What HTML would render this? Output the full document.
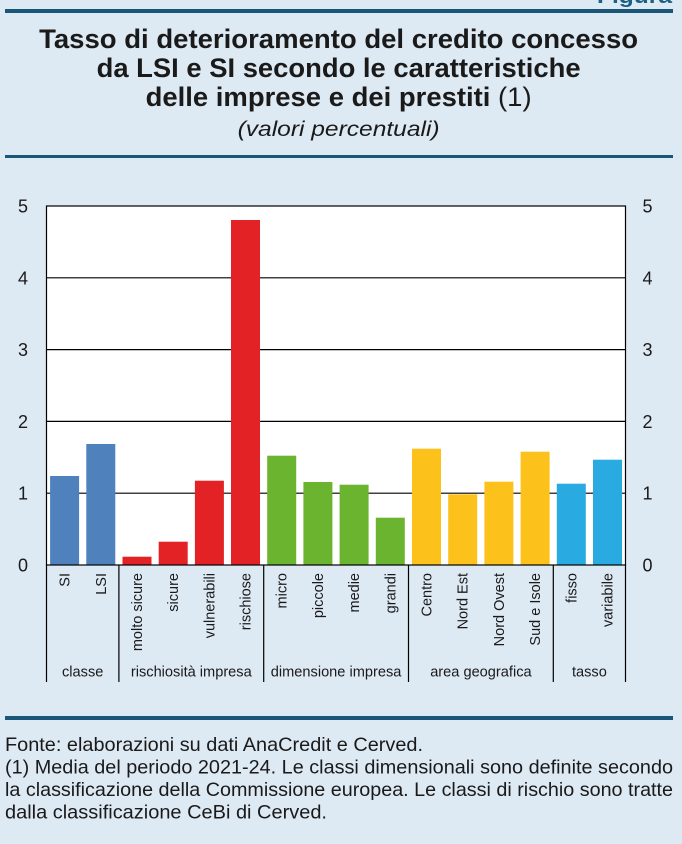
<!DOCTYPE html>
<html>
<head>
<meta charset="utf-8">
<style>
  html, body { margin:0; padding:0; background:#dde9f3; }
  svg { display:block; }
  text { font-family: "Liberation Sans", Arial, sans-serif; fill:#1a1a1a; }
</style>
</head>
<body>
<svg width="682" height="844" viewBox="0 0 682 844" xmlns="http://www.w3.org/2000/svg">
  <rect x="0" y="0" width="682" height="844" fill="#dde9f3"/>

  <!-- Header -->
  <text x="672" y="3" text-anchor="end" font-size="20" font-weight="bold" style="fill:#1b6186" textLength="75" lengthAdjust="spacingAndGlyphs">Figura</text>
  <rect x="5" y="9" width="668" height="4" fill="#1a5677"/>

  <text x="338.6" y="48" text-anchor="middle" font-size="27" font-weight="bold" textLength="599" lengthAdjust="spacingAndGlyphs">Tasso di deterioramento del credito concesso</text>
  <text x="338.6" y="77" text-anchor="middle" font-size="27" font-weight="bold" textLength="484" lengthAdjust="spacingAndGlyphs">da LSI e SI secondo le caratteristiche</text>
  <text x="338.6" y="106" text-anchor="middle" font-size="27" textLength="386" lengthAdjust="spacingAndGlyphs"><tspan font-weight="bold">delle imprese e dei prestiti</tspan> (1)</text>
  <text x="338.6" y="136" text-anchor="middle" font-size="21" font-style="italic" textLength="202" lengthAdjust="spacingAndGlyphs">(valori percentuali)</text>

  <rect x="5" y="155" width="668" height="3" fill="#1a5677"/>

  <!-- Plot area -->
  <rect x="46.5" y="206" width="579" height="359" fill="#ffffff"/>
  <g stroke="#000" stroke-width="1.2">
    <line x1="46.5" y1="277.8" x2="625.5" y2="277.8"/>
    <line x1="46.5" y1="349.6" x2="625.5" y2="349.6"/>
    <line x1="46.5" y1="421.4" x2="625.5" y2="421.4"/>
    <line x1="46.5" y1="493.2" x2="625.5" y2="493.2"/>
  </g>

  <!-- Bars -->
  <g>
    <rect x="50.1"  y="476"   width="29" height="89"    fill="#4f81bd"/>
    <rect x="86.3"  y="444"   width="29" height="121"   fill="#4f81bd"/>
    <rect x="122.5" y="556.7" width="29" height="8.3"   fill="#e32226"/>
    <rect x="158.7" y="541.7" width="29" height="23.3"  fill="#e32226"/>
    <rect x="194.9" y="480.7" width="29" height="84.3"  fill="#e32226"/>
    <rect x="231.0" y="220"   width="29" height="345"   fill="#e32226"/>
    <rect x="267.2" y="455.7" width="29" height="109.3" fill="#6ab42f"/>
    <rect x="303.4" y="482"   width="29" height="83"    fill="#6ab42f"/>
    <rect x="339.6" y="484.7" width="29" height="80.3"  fill="#6ab42f"/>
    <rect x="375.8" y="517.7" width="29" height="47.3"  fill="#6ab42f"/>
    <rect x="412.0" y="448.7" width="29" height="116.3" fill="#fdc11b"/>
    <rect x="448.2" y="494.3" width="29" height="70.7"  fill="#fdc11b"/>
    <rect x="484.4" y="481.7" width="29" height="83.3"  fill="#fdc11b"/>
    <rect x="520.6" y="451.7" width="29" height="113.3" fill="#fdc11b"/>
    <rect x="556.8" y="483.7" width="29" height="81.3"  fill="#29abe2"/>
    <rect x="593.0" y="459.7" width="29" height="105.3" fill="#29abe2"/>
  </g>

  <!-- Plot border -->
  <rect x="46.5" y="206" width="579" height="359" fill="none" stroke="#000" stroke-width="1.2"/>

  <!-- Group separators -->
  <g stroke="#000" stroke-width="1.2">
    <line x1="46.5"  y1="565" x2="46.5"  y2="682"/>
    <line x1="118.9" y1="565" x2="118.9" y2="682"/>
    <line x1="263.7" y1="565" x2="263.7" y2="682"/>
    <line x1="408.5" y1="565" x2="408.5" y2="682"/>
    <line x1="553.3" y1="565" x2="553.3" y2="682"/>
    <line x1="625.5" y1="565" x2="625.5" y2="682"/>
  </g>

  <!-- Y axis labels -->
  <g font-size="18" text-anchor="middle">
    <text x="23" y="212.5">5</text>
    <text x="23" y="284.3">4</text>
    <text x="23" y="356.1">3</text>
    <text x="23" y="427.9">2</text>
    <text x="23" y="499.7">1</text>
    <text x="23" y="571.5">0</text>
    <text x="647.5" y="212.5">5</text>
    <text x="647.5" y="284.3">4</text>
    <text x="647.5" y="356.1">3</text>
    <text x="647.5" y="427.9">2</text>
    <text x="647.5" y="499.7">1</text>
    <text x="647.5" y="571.5">0</text>
  </g>

  <!-- Rotated category labels -->
  <g font-size="14.5" text-anchor="end">
    <text transform="translate(69.6,573) rotate(-90)">SI</text>
    <text transform="translate(105.8,573) rotate(-90)">LSI</text>
    <text transform="translate(142.0,573) rotate(-90)">molto sicure</text>
    <text transform="translate(178.2,573) rotate(-90)">sicure</text>
    <text transform="translate(214.4,573) rotate(-90)">vulnerabili</text>
    <text transform="translate(250.5,573) rotate(-90)">rischiose</text>
    <text transform="translate(286.7,573) rotate(-90)">micro</text>
    <text transform="translate(322.9,573) rotate(-90)">piccole</text>
    <text transform="translate(359.1,573) rotate(-90)">medie</text>
    <text transform="translate(395.3,573) rotate(-90)">grandi</text>
    <text transform="translate(431.5,573) rotate(-90)">Centro</text>
    <text transform="translate(467.7,573) rotate(-90)">Nord Est</text>
    <text transform="translate(503.9,573) rotate(-90)">Nord Ovest</text>
    <text transform="translate(540.1,573) rotate(-90)">Sud e Isole</text>
    <text transform="translate(576.3,573) rotate(-90)">fisso</text>
    <text transform="translate(612.5,573) rotate(-90)">variabile</text>
  </g>

  <!-- Group labels -->
  <g font-size="14.6" text-anchor="middle">
    <text x="82.7" y="676.7">classe</text>
    <text x="191.3" y="676.7">rischiosità impresa</text>
    <text x="336.1" y="676.7">dimensione impresa</text>
    <text x="480.9" y="676.7">area geografica</text>
    <text x="589.4" y="676.7">tasso</text>
  </g>

  <!-- Bottom rule -->
  <rect x="5" y="716" width="668" height="4" fill="#1a5677"/>

  <!-- Footnotes -->
  <g font-size="19.5">
    <text x="5" y="751" textLength="418" lengthAdjust="spacingAndGlyphs">Fonte: elaborazioni su dati AnaCredit e Cerved.</text>
    <text x="5" y="773.5" textLength="668" lengthAdjust="spacingAndGlyphs">(1)  Media del periodo 2021-24. Le classi dimensionali sono definite secondo</text>
    <text x="5" y="796" textLength="668" lengthAdjust="spacingAndGlyphs">la classificazione della Commissione europea. Le classi di rischio sono tratte</text>
    <text x="5" y="818.5" textLength="322" lengthAdjust="spacingAndGlyphs">dalla classificazione CeBi di Cerved.</text>
  </g>
</svg>
</body>
</html>
